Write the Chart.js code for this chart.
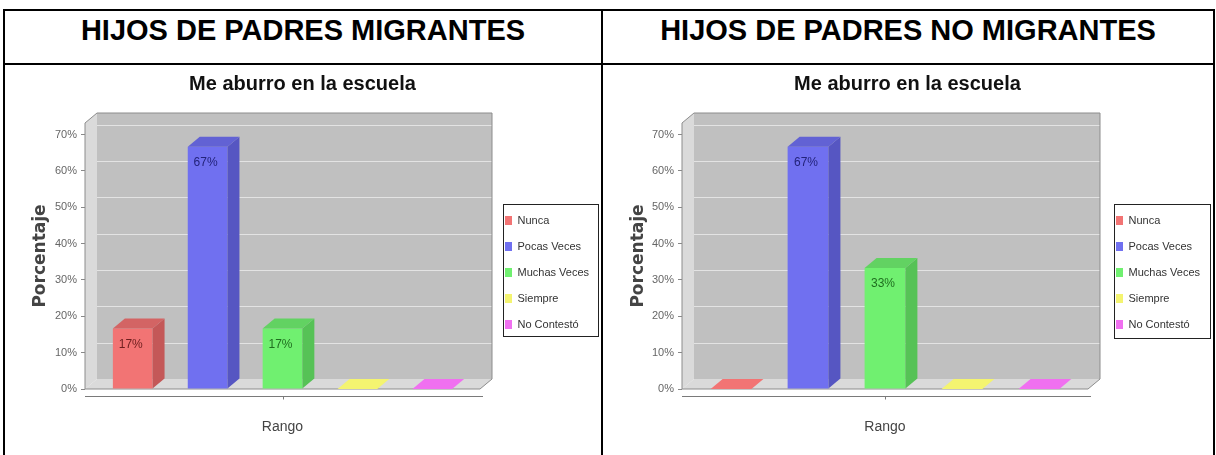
<!DOCTYPE html>
<html lang="es">
<head>
<meta charset="utf-8">
<title>Me aburro en la escuela</title>
<script src="https://cdn.jsdelivr.net/npm/chart.js@4.4.1/dist/chart.umd.min.js"></script>
<style>
  html, body { margin: 0; padding: 0; background: #fff; overflow: hidden; }
  body { width: 1216px; height: 455px; position: relative; }
  .frame { position: absolute; left: 3px; top: 9px; width: 1208px; height: 470px; border: 2px solid #000; }
  .hline { position: absolute; left: 0; top: 52px; width: 100%; height: 2px; background: #000; }
  .vline { position: absolute; left: 596px; top: 0; width: 2px; height: 100%; background: #000; }
  .head { position: absolute; top: 3px; height: 52px; line-height: 52px; text-align: center; font: bold 29px 'Liberation Sans', Arial, sans-serif; color: #000; }
  .box { position: absolute; top: 65px; height: 390px; }
</style>
</head>
<body>
<div class="frame">
  <div class="hline"></div>
  <div class="vline"></div>
  <div class="head" style="left:0;width:596px">HIJOS DE PADRES MIGRANTES</div>
  <div class="head" style="left:598px;width:610px">HIJOS DE PADRES NO MIGRANTES</div>
</div>
<div class="box" style="left:5px;width:595px"><canvas id="chartMigrantes"></canvas></div>
<div class="box" style="left:603px;width:609px"><canvas id="chartNoMigrantes"></canvas></div>

<script>
// datos
const seriesNames = ['Nunca', 'Pocas Veces', 'Muchas Veces', 'Siempre', 'No Contestó'];
const categoryLabels = [''];
const migrantesValues = [16.67, 66.67, 16.67, 0, 0];
const noMigrantesValues = [0, 66.67, 33.33, 0, 0];
const yTickValues = [0, 10, 20, 30, 40, 50, 60, 70];
const yMax = 73.2;

const frontColors = ['#f27474', '#7070f0', '#70f070', '#f4f470', '#f070f0'];
const topColors = ['#d36464', '#6262d4', '#62d262', '#d4d462', '#d462d4'];
const sideColors = ['#c45858', '#5656c2', '#56c256', '#c2c256', '#c256c2'];
const labelColors = ['#6e1f1f', '#23237a', '#1f6e1f', '#6e6e1f', '#6e1f6e'];

const sans = "'Liberation Sans', Arial, sans-serif";
const DX = 12;
const DY = 10;

const poly = (ctx, pts, fill) => {
  ctx.beginPath();
  pts.forEach(([px, py], i) => (i ? ctx.lineTo(px, py) : ctx.moveTo(px, py)));
  ctx.closePath();
  ctx.fillStyle = fill;
  ctx.fill();
};

// paredes, piso y caras 3D de las barras
const bars3d = {
  id: 'bars3d',
  afterLayout(chart, args, opts) {
    const { legend, titleBlock } = chart;
    const pad = legend.options.labels.padding;
    const w = legend.width;
    legend.left = opts.legendX - pad;
    legend.right = legend.left + w;
    legend.top = opts.legendTop;
    legend.bottom = legend.top + legend.height;
    // el titulo se centra sobre todo el grafico, no solo el area de datos
    titleBlock.left = 0;
    titleBlock.right = chart.width;
    titleBlock.width = chart.width;
  },
  beforeDatasetsDraw(chart) {
    const { ctx, chartArea: { left, right, top, bottom } } = chart;
    const yScale = chart.scales.y;
    ctx.save();
    ctx.fillStyle = '#c0c0c0';
    ctx.fillRect(left + DX, top - DY, right - left, bottom - top);
    poly(ctx, [[left, top], [left + DX, top - DY], [left + DX, bottom - DY], [left, bottom]], '#dadada');
    poly(ctx, [[left, bottom], [left + DX, bottom - DY], [right + DX, bottom - DY], [right, bottom]], '#dadada');

    ctx.strokeStyle = 'rgba(255,255,255,0.55)';
    ctx.lineWidth = 1;
    yTickValues.forEach((v) => {
      if (v === 0) return;
      const py = Math.round(yScale.getPixelForValue(v) - DY) + 0.5;
      ctx.beginPath();
      ctx.moveTo(left + DX, py);
      ctx.lineTo(right + DX, py);
      ctx.stroke();
    });

    ctx.strokeStyle = '#8c8c8c';
    ctx.beginPath();
    ctx.moveTo(left, bottom);
    ctx.lineTo(left, top);
    ctx.lineTo(left + DX, top - DY);
    ctx.lineTo(right + DX, top - DY);
    ctx.lineTo(right + DX, bottom - DY);
    ctx.lineTo(right, bottom);
    ctx.closePath();
    ctx.stroke();

    // eje de categorias
    const ay = Math.round(bottom + 7) + 0.5;
    const cx = Math.round((left + right) / 2) + 0.5;
    ctx.strokeStyle = '#7a7a7a';
    ctx.beginPath();
    ctx.moveTo(left, ay);
    ctx.lineTo(right + 3, ay);
    ctx.moveTo(cx, ay);
    ctx.lineTo(cx, ay + 3);
    ctx.stroke();
    ctx.restore();
  },
  afterDatasetsDraw(chart) {
    const { ctx } = chart;
    ctx.save();
    chart.data.datasets.forEach((ds, i) => {
      const el = chart.getDatasetMeta(i).data[0];
      const { x, y, base, width } = el.getProps(['x', 'y', 'base', 'width'], true);
      const l = x - width / 2;
      const r = x + width / 2;
      const v = ds.data[0];
      poly(ctx, [[r, y], [r + DX, y - DY], [r + DX, base - DY], [r, base]], sideColors[i]);
      poly(ctx, [[l, y], [l + DX, y - DY], [r + DX, y - DY], [r, y]], v > 0 ? topColors[i] : frontColors[i]);
      if (v > 0) {
        ctx.font = `12px ${sans}`;
        ctx.textAlign = 'center';
        ctx.textBaseline = 'middle';
        ctx.fillStyle = labelColors[i];
        ctx.fillText(`${Math.round(v)}%`, x - 2, y + 16);
      }
    });
    ctx.restore();
  },
  afterDraw(chart, args, opts) {
    const { ctx } = chart;
    const b = opts.legendBox;
    ctx.save();
    ctx.strokeStyle = '#222';
    ctx.lineWidth = 1;
    ctx.strokeRect(b.left + 0.5, b.top + 0.5, b.right - b.left, b.bottom - b.top);
    ctx.restore();
  },
};

const makeChart = (id, values, cfg) => {
  const ctx = document.getElementById(id).getContext('2d');
  return new Chart(ctx, {
    type: 'bar',
    data: {
      labels: categoryLabels,
      datasets: seriesNames.map((name, i) => ({
        label: name,
        data: [values[i]],
        backgroundColor: frontColors[i],
        borderWidth: 0,
        categoryPercentage: 0.948,
        barPercentage: 0.53,
      })),
    },
    options: {
      responsive: true,
      maintainAspectRatio: false,
      animation: false,
      layout: { padding: { left: 0, top: 0, bottom: 0, right: cfg.rightPad } },
      scales: {
        x: {
          grid: { display: false },
          border: { display: false },
          ticks: { display: false },
          title: {
            display: true,
            text: 'Rango',
            color: '#444',
            font: { family: sans, size: 14 },
            padding: { top: 0, bottom: 19 },
          },
          afterFit: (s) => { s.height = 66; },
        },
        y: {
          min: 0,
          max: yMax,
          afterBuildTicks: (s) => { s.ticks = yTickValues.map((v) => ({ value: v })); },
          ticks: {
            callback: (v) => `${v}%`,
            color: '#666',
            font: { family: sans, size: 11 },
            padding: 4,
          },
          grid: { drawOnChartArea: false, tickLength: 4, color: '#888' },
          border: { display: false },
          title: {
            display: true,
            text: 'Porcentaje',
            color: '#444',
            font: { family: "'DejaVu Sans', sans-serif", size: 17, weight: 'bold' },
            padding: { top: 25, bottom: 0 },
          },
          afterFit: (s) => { s.width = cfg.yWidth; },
        },
      },
      plugins: {
        title: {
          display: true,
          text: 'Me aburro en la escuela',
          color: '#111',
          font: { family: sans, size: 20, weight: 'bold' },
          padding: { top: 7, bottom: 27 },
        },
        legend: {
          position: 'chartArea',
          align: 'start',
          labels: {
            boxWidth: 7,
            boxHeight: 9,
            padding: 15,
            color: '#333',
            font: { family: sans, size: 11 },
          },
        },
        tooltip: { enabled: false },
        bars3d: cfg,
      },
    },
    plugins: [bars3d],
  });
};

makeChart('chartMigrantes', migrantesValues, {
  yWidth: 80,
  rightPad: 120,
  legendX: 500,
  legendTop: 135,
  legendBox: { left: 498, top: 139, right: 593, bottom: 271 },
});

makeChart('chartNoMigrantes', noMigrantesValues, {
  yWidth: 79,
  rightPad: 124,
  legendX: 513,
  legendTop: 135,
  legendBox: { left: 511, top: 139, right: 607, bottom: 273 },
});
</script>
</body>
</html>
